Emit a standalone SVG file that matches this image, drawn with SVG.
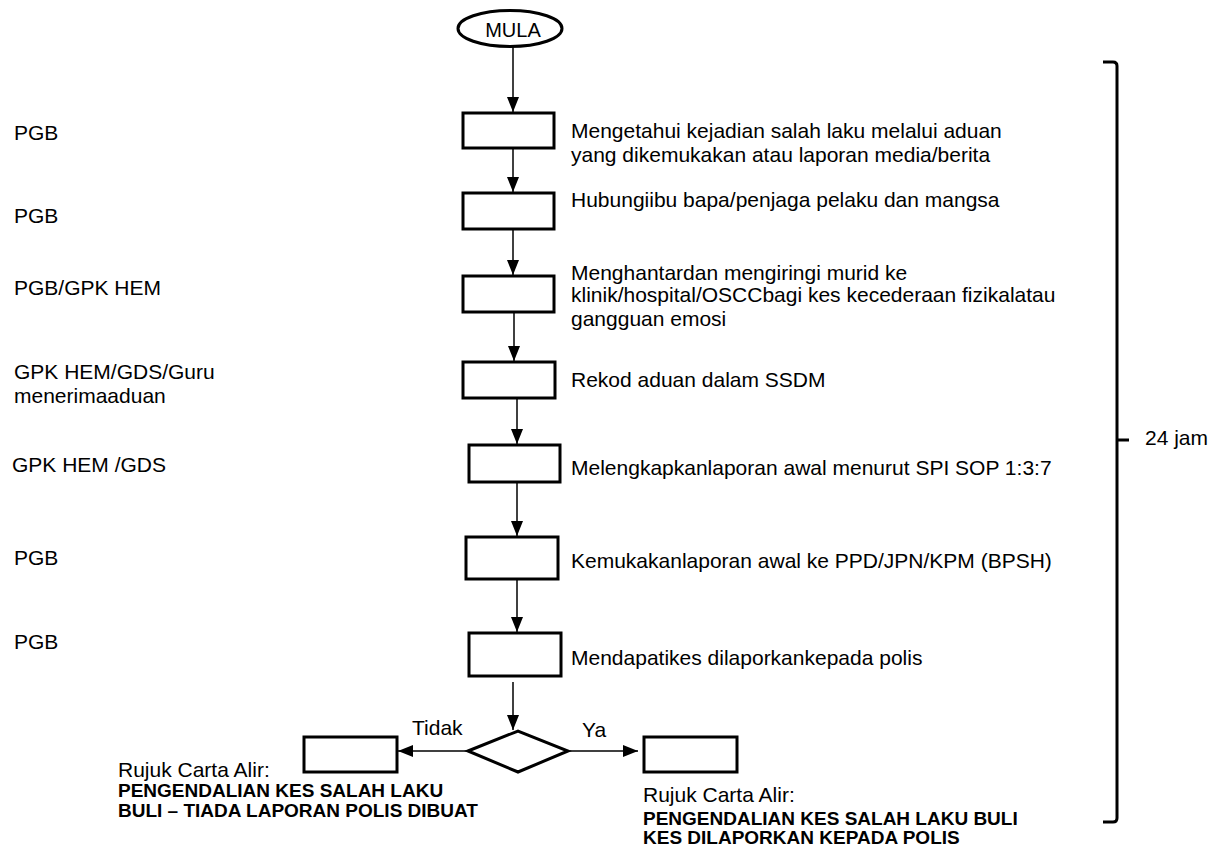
<svg xmlns="http://www.w3.org/2000/svg" width="1218" height="846" viewBox="0 0 1218 846">
<style>
  text { font-family: "Liberation Sans", Arial, sans-serif; fill: #000; }
  .t { font-size: 21px; }
  .b { font-size: 19px; font-weight: bold; }
  .box { fill: #fff; stroke: #000; stroke-width: 3; }
  .conn { fill: none; stroke: #000; stroke-width: 1.5; }
  .br { fill: none; stroke: #000; stroke-width: 3; }
</style>
<defs>
  <marker id="ah" markerUnits="userSpaceOnUse" markerWidth="15" markerHeight="12" refX="15" refY="6" orient="auto">
    <path d="M0,0 L15,6 L0,12 z" fill="#000"/>
  </marker>
</defs>
<rect width="1218" height="846" fill="#fff"/>

<g id="connectors">
  <path class="conn" d="M513,47 V112" marker-end="url(#ah)"/>
  <path class="conn" d="M513,149 V192" marker-end="url(#ah)"/>
  <path class="conn" d="M513,230 V275" marker-end="url(#ah)"/>
  <path class="conn" d="M514,313 V361" marker-end="url(#ah)"/>
  <path class="conn" d="M517,399 V444" marker-end="url(#ah)"/>
  <path class="conn" d="M517,483 V536" marker-end="url(#ah)"/>
  <path class="conn" d="M517,580 V632" marker-end="url(#ah)"/>
  <path class="conn" d="M513,682 V730" marker-end="url(#ah)"/>
  <path class="conn" d="M466,751 H398" marker-end="url(#ah)"/>
  <path class="conn" d="M570,751 H638" marker-end="url(#ah)"/>
</g>

<g id="mula">
  <ellipse cx="510" cy="28.5" rx="52" ry="18" fill="#fff" stroke="#000" stroke-width="3"/>
  <text x="513" y="37" font-size="20" text-anchor="middle">MULA</text>
</g>

<g id="step1">
  <rect class="box" x="463" y="113" width="91" height="35"/>
  <text class="t" x="571" y="138">Mengetahui kejadian salah laku melalui aduan</text>
  <text class="t" x="571" y="162">yang dikemukakan atau laporan media/berita</text>
</g>
<g id="step2">
  <rect class="box" x="463" y="193" width="91" height="36"/>
  <text class="t" x="571" y="207">Hubungiibu bapa/penjaga pelaku dan mangsa</text>
</g>
<g id="step3">
  <rect class="box" x="463" y="276" width="91" height="36"/>
  <text class="t" x="571" y="280">Menghantardan mengiringi murid ke</text>
  <text class="t" x="571" y="302">klinik/hospital/OSCCbagi kes kecederaan fizikalatau</text>
  <text class="t" x="571" y="326">gangguan emosi</text>
</g>
<g id="step4">
  <rect class="box" x="463" y="362" width="92" height="36"/>
  <text class="t" x="571" y="387">Rekod aduan dalam SSDM</text>
</g>
<g id="step5">
  <rect class="box" x="469" y="445" width="91" height="37"/>
  <text class="t" x="571" y="475">Melengkapkanlaporan awal menurut SPI SOP 1:3:7</text>
</g>
<g id="step6">
  <rect class="box" x="466" y="537" width="92" height="42"/>
  <text class="t" x="571" y="568">Kemukakanlaporan awal ke PPD/JPN/KPM (BPSH)</text>
</g>
<g id="step7">
  <rect class="box" x="469" y="633" width="92" height="43"/>
  <text class="t" x="571" y="665">Mendapatikes dilaporkankepada polis</text>
</g>

<g id="decision">
  <polygon points="468,751 518,731 568,751 518,772" fill="#fff" stroke="#000" stroke-width="3" stroke-linejoin="miter"/>
  <text class="t" x="412" y="735">Tidak</text>
  <text class="t" x="582" y="737">Ya</text>
</g>

<g id="no-branch">
  <rect class="box" x="304" y="737" width="93" height="35"/>
  <text class="t" x="118" y="777">Rujuk Carta Alir:</text>
  <text class="b" x="118" y="797">PENGENDALIAN KES SALAH LAKU</text>
  <text class="b" x="118" y="817">BULI – TIADA LAPORAN POLIS DIBUAT</text>
</g>
<g id="yes-branch">
  <rect class="box" x="644" y="737" width="93" height="35"/>
  <text class="t" x="643" y="802">Rujuk Carta Alir:</text>
  <text class="b" x="643" y="825">PENGENDALIAN KES SALAH LAKU BULI</text>
  <text class="b" x="643" y="844">KES DILAPORKAN KEPADA POLIS</text>
</g>

<g id="roles">
  <text class="t" x="14" y="140">PGB</text>
  <text class="t" x="14" y="223">PGB</text>
  <text class="t" x="14" y="295">PGB/GPK HEM</text>
  <text class="t" x="14" y="379">GPK HEM/GDS/Guru</text>
  <text class="t" x="14" y="403">menerimaaduan</text>
  <text class="t" x="12" y="472">GPK HEM /GDS</text>
  <text class="t" x="14" y="565">PGB</text>
  <text class="t" x="14" y="649">PGB</text>
</g>

<g id="bracket">
  <path class="br" d="M1103,62 H1113 Q1117,62 1117,66 V818 Q1117,822 1113,822 H1103"/>
  <path class="br" d="M1117,440 H1129"/>
  <text class="t" x="1145" y="445">24 jam</text>
</g>
</svg>
